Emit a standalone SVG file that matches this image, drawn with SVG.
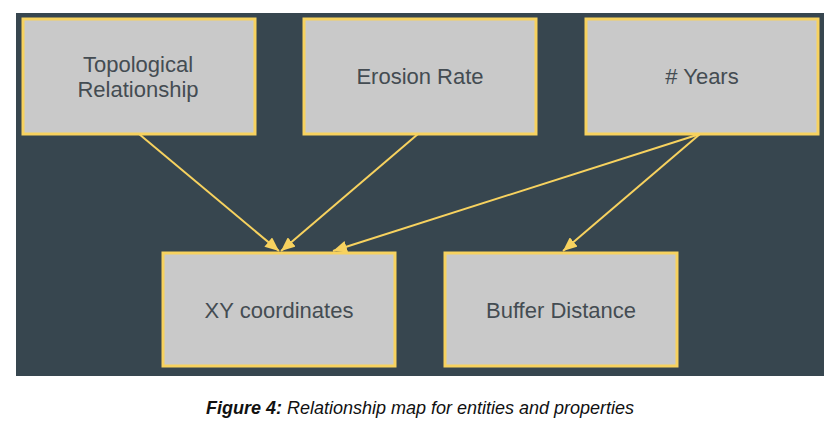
<svg xmlns="http://www.w3.org/2000/svg" width="840" height="433" viewBox="0 0 840 433">
<defs>
<style>
.node rect{fill:#c9c9c9;stroke:#f7d25f;stroke-width:3}
.node text{font-family:"Liberation Sans",Arial,sans-serif;font-size:22px;fill:#444c52;text-anchor:middle}
.conn line{stroke:#f7d25f;stroke-width:2}
.cap{font-family:"Liberation Sans",Arial,sans-serif;font-size:18px;font-style:italic;fill:#111}
</style>
<marker id="ah" markerWidth="16" markerHeight="12" refX="14" refY="6" orient="auto" markerUnits="userSpaceOnUse">
<path d="M0,0 L14,6 L0,12 Z" fill="#f7d25f"/>
</marker>
</defs>
<rect x="0" y="0" width="840" height="433" fill="#ffffff"/>
<rect x="16" y="13" width="808" height="363" fill="#37464f"/>
<g class="conn">
<line x1="139" y1="134" x2="279" y2="251" marker-end="url(#ah)"/>
<line x1="418" y1="134" x2="281" y2="251" marker-end="url(#ah)"/>
<line x1="700" y1="134" x2="333" y2="251" marker-end="url(#ah)"/>
<line x1="700" y1="134" x2="563" y2="251" marker-end="url(#ah)"/>
</g>
<g id="topological" class="node">
<rect x="23" y="19" width="232" height="115"/>
<text x="138" y="72">Topological</text>
<text x="138" y="97">Relationship</text>
</g>
<g id="erosion" class="node">
<rect x="304" y="19" width="232" height="115"/>
<text x="420" y="84">Erosion Rate</text>
</g>
<g id="years" class="node">
<rect x="586" y="19" width="232" height="115"/>
<text x="702" y="84"># Years</text>
</g>
<g id="xy" class="node">
<rect x="163" y="253" width="232" height="113"/>
<text x="279" y="318">XY coordinates</text>
</g>
<g id="buffer" class="node">
<rect x="445" y="253" width="232" height="113"/>
<text x="561" y="318">Buffer Distance</text>
</g>
<text class="cap" x="420" y="414" text-anchor="middle"><tspan font-weight="bold">Figure 4:</tspan> Relationship map for entities and properties</text>
</svg>
